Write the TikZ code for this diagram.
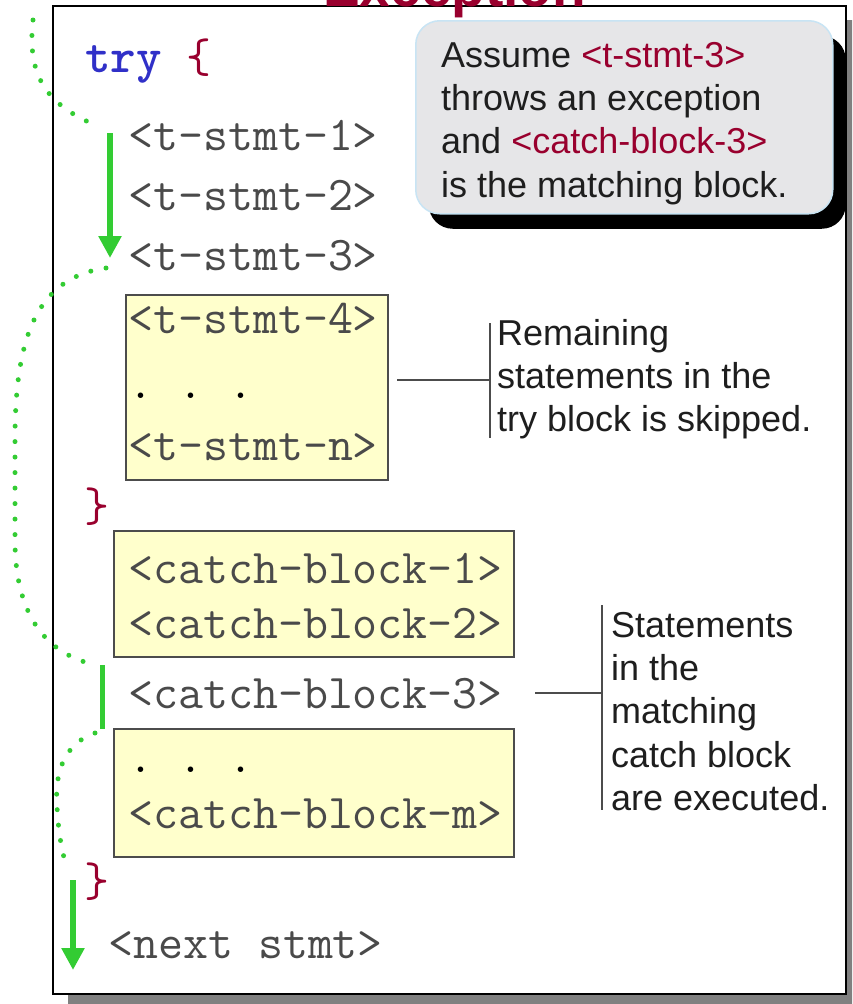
\documentclass[tikz,border=0pt]{standalone}
\usepackage{fontspec}
\setmainfont{Liberation Sans}
\usetikzlibrary{arrows.meta,shadows}
\definecolor{codegray}{HTML}{4A4A4A}
\definecolor{kwblue}{HTML}{3030C8}
\definecolor{brred}{HTML}{99002E}
\definecolor{boxyellow}{HTML}{FFFFCC}
\definecolor{flowgreen}{HTML}{33CC33}
\definecolor{calloutfill}{HTML}{E6E6E8}
\definecolor{calloutline}{HTML}{C8E4F4}
\definecolor{framegray}{HTML}{808080}
\definecolor{notetext}{HTML}{1E1E1E}
\begin{document}
\begin{tikzpicture}[x=1pt,y=-1pt,
  code/.style={font=\ttfamily\fontsize{48.5}{50}\selectfont, text=codegray, inner sep=0pt, anchor=base west},
  bracetext/.style={font=\ttfamily\fontsize{48.5}{50}\selectfont, text=brred, inner sep=0pt, anchor=base west},
  note/.style={font=\fontsize{36}{43.3}\selectfont, text=notetext, inner sep=0pt, anchor=north west, align=left},
  skipbox/.style={draw=black!70, line width=2pt, fill=boxyellow, anchor=north west, inner sep=0pt},
  flow/.style={draw=flowgreen, line width=5pt, line cap=round, dash pattern=on 0pt off 15.5pt},
  flowarrow/.style={draw=flowgreen, line width=6pt, -{Triangle[width=22pt,length=22pt]}},
  flowbar/.style={draw=flowgreen, line width=5pt},
  leader/.style={draw=black!70, line width=2pt},
]
\useasboundingbox (0,0) rectangle (852,1004);
\clip (0,0) rectangle (852,1004);

% outer frame with grey shadow
\node[draw=black, line width=2pt, fill=white, anchor=north west, inner sep=0pt,
      minimum width=793pt, minimum height=988pt,
      drop shadow={shadow xshift=15pt, shadow yshift=-14pt, fill=framegray, opacity=1}]
      (frame) at (52,5) {};

% partially visible title
\node[font=\bfseries\fontsize{55}{60}\selectfont, text=brred, inner sep=0pt, anchor=base west]
      (title) at (323,6) {Exception};

% callout
\node[draw=calloutline, line width=1.5pt, fill=calloutfill, rounded corners=24pt,
      anchor=north west, inner sep=0pt, minimum width=417pt, minimum height=193pt,
      drop shadow={shadow xshift=13pt, shadow yshift=-15pt, fill=black, opacity=1}]
      (callout) at (415,20) {};
\node[note] (callouttext) at (441,42)
  {Assume \textcolor{brred}{<t-stmt-3>}\\throws an exception\\and \textcolor{brred}{<catch-block-3>}\\is the matching block.};

% code
\node[code] (try) at (85,72) {\textcolor{kwblue}{\bfseries try} \textcolor{brred}{\{}};
\node[code] (t1) at (128,150) {<t-stmt-1>};
\node[code] (t2) at (128,210) {<t-stmt-2>};
\node[code] (t3) at (128,270) {<t-stmt-3>};

\node[skipbox, minimum width=262pt, minimum height=185pt] (trybox) at (125,294) {};
\node[code] (t4) at (128,333) {<t-stmt-4>};
\node[code, text=black] (tdots) at (128,398) {.\ .\ .};
\node[code] (tn) at (128,460) {<t-stmt-n>};

\node[bracetext] (close1) at (84,521) {\}};

\node[skipbox, minimum width=400pt, minimum height=126pt] (catchbox1) at (113,530) {};
\node[code] (cb1) at (128,583) {<catch-block-1>};
\node[code] (cb2) at (128,638) {<catch-block-2>};
\node[code] (cb3) at (128,708) {<catch-block-3>};

\node[skipbox, minimum width=400pt, minimum height=128pt] (catchbox2) at (113,728) {};
\node[code, text=black] (cdots) at (128,772) {.\ .\ .};
\node[code] (cbm) at (128,828) {<catch-block-m>};

\node[bracetext] (close2) at (84,896) {\}};
\node[code] (next) at (108,958) {<next stmt>};

% annotation 1
\coordinate (r1top) at (490,323);
\coordinate (r1bot) at (490,438);
\coordinate (r1mid) at (490,380);
\coordinate (r1start) at (397,380);
\draw[leader] (r1top) -- (r1bot);
\draw[leader] (r1start) -- (r1mid);
\node[note] (skipnote) at (497,319) {Remaining\\statements in the\\try block is skipped.};

% annotation 2
\coordinate (r2top) at (602,605);
\coordinate (r2bot) at (602,810);
\coordinate (r2mid) at (602,693);
\coordinate (r2start) at (535,693);
\draw[leader] (r2top) -- (r2bot);
\draw[leader] (r2start) -- (r2mid);
\node[note] (execnote) at (611,612) {Statements\\in the\\matching\\catch block\\are executed.};

% flow of control
\coordinate (d1s) at (33,20);
\coordinate (d1e) at (100,127);
\coordinate (a1s) at (110,133);
\coordinate (a1e) at (110,258);
\coordinate (d2s) at (106,268);
\coordinate (d2e) at (96,665);
\coordinate (bart) at (102,665);
\coordinate (barb) at (102,729);
\coordinate (d3s) at (95,733);
\coordinate (d3e) at (68,870);
\coordinate (a2s) at (73,880);
\coordinate (a2e) at (73,970);

\draw[flow] (d1s) .. controls (27,75) and (45,105) .. (d1e);
\draw[flowarrow] (a1s) -- (a1e);
\draw[flow] (d2s) .. controls (35,278) and (15,340) .. (15,440) -- (15,540)
            .. controls (15,620) and (50,655) .. (d2e);
\draw[flowbar] (bart) -- (barb);
\draw[flow] (d3s) .. controls (60,745) and (55,780) .. (57,805)
            .. controls (58,830) and (62,855) .. (d3e);
\draw[flowarrow] (a2s) -- (a2e);
\end{tikzpicture}
\end{document}
